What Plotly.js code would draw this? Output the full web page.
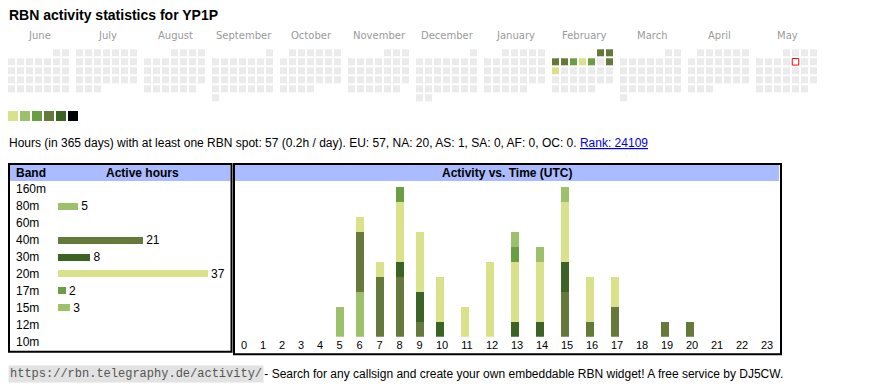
<!DOCTYPE html>
<html><head><meta charset="utf-8">
<script src="https://cdn.plot.ly/plotly-3.0.1.min.js"></script>
<style>html,body{margin:0;padding:0;background:#fff}#chart{width:870px;height:390px}</style>
</head><body><div id="chart"></div>
<script>
// ---------- data ----------
const titleText = 'RBN activity statistics for YP1P';
const monthNames = ['June','July','August','September','October','November','December','January','February','March','April','May'];
const monthYears = [2024,2024,2024,2024,2024,2024,2024,2025,2025,2025,2025,2025];
const monthNumbers = [6,7,8,9,10,11,12,1,2,3,4,5];
const activeDates = ['2025-02-01','2025-02-02','2025-02-03','2025-02-04','2025-02-05','2025-02-06','2025-02-07','2025-02-09','2025-02-10'];
const activeLevels = [4,4,4,4,3,1,3,4,1];
const todayDate = '2025-05-09';
const levelColors = ['#d9e28a','#9dc16b','#6a9e45','#64793a','#3b6424','#000000'];
const emptyColor = '#ebebeb';

const statsText = 'Hours (in 365 days) with at least one RBN spot: 57 (0.2h / day). EU: 57, NA: 20, AS: 1, SA: 0, AF: 0, OC: 0. ';
const rankText = 'Rank: 24109';

const bands = ['160m','80m','60m','40m','30m','20m','17m','15m','12m','10m'];
const bandHours = [0,5,0,21,8,37,2,3,0,0];
const bandColors = ['#9dc16b','#9dc16b','#9dc16b','#64793a','#3b6424','#d9e28a','#6a9e45','#9dc16b','#9dc16b','#9dc16b'];

const hours = [0,1,2,3,4,5,6,7,8,9,10,11,12,13,14,15,16,17,18,19,20,21,22,23];
const hourLabels = ['0','1','2','3','4','5','6','7','8','9','10','11','12','13','14','15','16','17','18','19','20','21','22','23'];
const act80m = [0,0,0,0,0,2,3,0,0,0,0,0,0,0,0,0,0,0,0,0,0,0,0,0];
const act40m = [0,0,0,0,0,0,4,4,4,1,0,0,0,0,0,3,1,2,0,1,1,0,0,0];
const act30m = [0,0,0,0,0,0,0,0,1,2,1,0,0,1,1,2,0,0,0,0,0,0,0,0];
const act20m = [0,0,0,0,0,0,1,1,4,4,3,2,5,4,4,4,3,2,0,0,0,0,0,0];
const act17m = [0,0,0,0,0,0,0,0,1,0,0,0,0,1,0,0,0,0,0,0,0,0,0,0];
const act15m = [0,0,0,0,0,0,0,0,0,0,0,0,0,1,1,1,0,0,0,0,0,0,0,0];

const footerUrl = 'https://rbn.telegraphy.de/activity/';
const footerText = ' - Search for any callsign and create your own embeddable RBN widget! A free service by DJ5CW.';

// ---------- layout helpers ----------
const SANS = 'Liberation Sans, Arial, sans-serif';
const calX0 = 8, blockPitch = 68, cellPitch = 9, calY0 = 49.3, cellSize = 7;
function pad(n){return (n<10?'0':'')+n;}

const calX = [], calY = [], calC = [], todayX = [], todayY = [];
const monthLabelX = [];
monthNames.forEach((name, i) => {
  const y = monthYears[i], m = monthNumbers[i];
  const first = new Date(Date.UTC(y, m-1, 1));
  const dow = (first.getUTCDay() + 6) % 7;
  const nDays = new Date(Date.UTC(y, m, 0)).getUTCDate();
  const bx = calX0 + blockPitch * i;
  monthLabelX.push(bx + 31.5);
  for (let d = 1; d <= nDays; d++) {
    const k = dow + d - 1;
    const cx = bx + cellPitch * (k % 7) + cellSize/2;
    const cy = calY0 + cellPitch * Math.floor(k / 7) + cellSize/2;
    const key = y + '-' + pad(m) + '-' + pad(d);
    if (key === todayDate) { todayX.push(cx); todayY.push(cy); continue; }
    const idx = activeDates.indexOf(key);
    calX.push(cx); calY.push(cy);
    calC.push(idx >= 0 ? levelColors[activeLevels[idx]-1] : emptyColor);
  }
});

// hour columns of the activity table: widths like an auto-sized HTML table
const cellW = hours.map(h => h < 5 ? 19 : (h < 10 ? 20 : 25));
const cellLeft = [];
cellW.reduce((acc, w) => { cellLeft.push(acc); return acc + w; }, 234.5);
const labelPos = hours.map((h,i) => cellLeft[i] + cellW[i]/2);
const barPos = hours.map((h,i) => cellLeft[i] + 10.5);

const traces = [];
traces.push({type:'scatter', mode:'markers', x:calX, y:calY, xaxis:'x', yaxis:'y',
  marker:{symbol:'square', size:cellSize, color:calC, line:{width:0}}, hoverinfo:'skip'});
traces.push({type:'scatter', mode:'markers', x:todayX, y:todayY, xaxis:'x', yaxis:'y',
  marker:{symbol:'square', size:cellSize-0.5, color:'#ffffff', line:{width:1, color:'#ff0000'}}, hoverinfo:'skip'});
// colour scale legend
traces.push({type:'scatter', mode:'markers', x:levelColors.map((c,k)=>13+12*k), y:levelColors.map(()=>116), xaxis:'x', yaxis:'y',
  marker:{symbol:'square', size:10, color:levelColors, line:{width:0}}, hoverinfo:'skip'});

// band table bars
traces.push({type:'bar', orientation:'h', x:bandHours, y:bands, xaxis:'x2', yaxis:'y2', width:0.41,
  marker:{color:bandColors}, text:bandHours.map(v=>v>0?String(v):''), textposition:'outside',
  textfont:{family:SANS, size:12, color:'#000'}, cliponaxis:false, constraintext:'none', hoverinfo:'skip'});

// activity stacked bars
const series = [[act80m,'#9dc16b'],[act40m,'#64793a'],[act30m,'#3b6424'],[act20m,'#d9e28a'],[act17m,'#6a9e45'],[act15m,'#9dc16b']];
series.forEach(([vals,col]) => {
  traces.push({type:'bar', x:barPos, y:vals, xaxis:'x3', yaxis:'y3', width:8, marker:{color:col, line:{width:0}}, hoverinfo:'skip'});
});

const ann = [];
ann.push({xref:'x', yref:'y', x:6.5, y:15, xanchor:'left', yanchor:'middle', showarrow:false,
  text:'<b>'+titleText+'</b>', font:{family:SANS, size:14, color:'#000'}});
monthNames.forEach((n,i)=>ann.push({xref:'x', yref:'y', x:monthLabelX[i], y:35, xanchor:'center', yanchor:'middle', showarrow:false,
  text:n, font:{family:'DejaVu Sans, sans-serif', size:10, color:'#9a9a9a'}}));
ann.push({xref:'x', yref:'y', x:6.5, y:142.5, xanchor:'left', yanchor:'middle', showarrow:false,
  text:statsText+'<span style="color:#0000ee"><u>'+rankText+'</u></span>', font:{family:SANS, size:12, color:'#000'}});
ann.push({xref:'x', yref:'y', x:14, y:173, xanchor:'left', yanchor:'middle', showarrow:false, text:'<b>Band</b>', font:{family:SANS, size:12}});
ann.push({xref:'x', yref:'y', x:142, y:173, xanchor:'center', yanchor:'middle', showarrow:false, text:'<b>Active hours</b>', font:{family:SANS, size:12}});
ann.push({xref:'x', yref:'y', x:507, y:173, xanchor:'center', yanchor:'middle', showarrow:false, text:'<b>Activity vs. Time (UTC)</b>', font:{family:SANS, size:12}});
bands.forEach(b=>ann.push({xref:'x', yref:'y2', x:14, y:b, xanchor:'left', yanchor:'middle', showarrow:false, text:b, font:{family:SANS, size:12}}));
ann.push({xref:'x', yref:'y', x:8, y:374, xanchor:'left', yanchor:'middle', showarrow:false, text:footerUrl,
  bgcolor:'#e2e2e2', borderpad:1, font:{family:'Liberation Mono, monospace', size:12, color:'#555'}});
ann.push({xref:'x', yref:'y', x:259, y:374, xanchor:'left', yanchor:'middle', showarrow:false, text:footerText,
  font:{family:SANS, size:12, color:'#000'}});

const shapes = [
  {type:'rect', xref:'x', yref:'y', x0:10, x1:230.5, y0:165, y1:181, fillcolor:'#aabbff', line:{width:0}, layer:'below'},
  {type:'rect', xref:'x', yref:'y', x0:235, x1:779, y0:165, y1:181, fillcolor:'#aabbff', line:{width:0}, layer:'below'},
  {type:'rect', xref:'x', yref:'y', x0:9, x1:231.5, y0:164, y1:351.7, line:{width:2, color:'#000'}},
  {type:'rect', xref:'x', yref:'y', x0:234, x1:781, y0:164, y1:354.3, line:{width:2, color:'#000'}}
];

const layout = {
  width:870, height:390, margin:{l:0,r:0,t:0,b:0}, paper_bgcolor:'#ffffff', plot_bgcolor:'rgba(0,0,0,0)',
  showlegend:false, barmode:'stack', hovermode:false,
  font:{family:SANS, size:12, color:'#000'},
  xaxis:{domain:[0,1], range:[0,870], visible:false},
  yaxis:{domain:[0,1], range:[390,0], visible:false},
  xaxis2:{domain:[58/870, 230/870], range:[0, 172/4.054], visible:false, anchor:'y2'},
  yaxis2:{domain:[40/390, 209/390], type:'category', categoryorder:'array', categoryarray:bands, range:[9.5,-0.5], visible:false, anchor:'x2'},
  xaxis3:{domain:[0, 1], range:[0, 870], anchor:'y3', tickmode:'array', tickvals:labelPos, ticktext:hourLabels,
    showgrid:false, zeroline:false, showline:false, ticks:'', tickfont:{family:SANS, size:11, color:'#000'}},
  yaxis3:{domain:[(390-336.7)/390, (390-181)/390], range:[0, 155.7/15], visible:false, anchor:'x3'},
  shapes:shapes, annotations:ann
};
Plotly.newPlot('chart', traces, layout, {staticPlot:true, displayModeBar:false});
</script></body></html>
